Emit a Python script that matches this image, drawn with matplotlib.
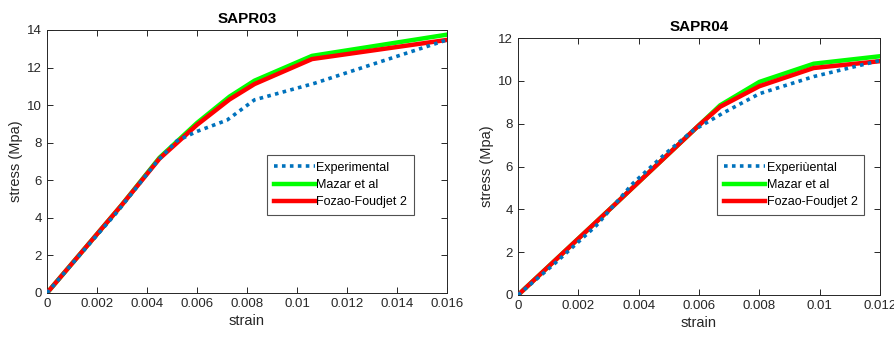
import matplotlib
matplotlib.use("Agg")
import matplotlib.pyplot as plt

plt.rcParams['font.family'] = ['Liberation Sans', 'DejaVu Sans']

# SAPR03
strain_03_exp = [0, 0.0012, 0.0028, 0.0044, 0.0052, 0.006, 0.0072, 0.0083, 0.0107, 0.016]
stress_03_exp = [0, 1.85, 4.3, 7.0, 8.1, 8.6, 9.2, 10.28, 11.16, 13.47]
strain_03_maz = [0, 0.0015, 0.003, 0.0045, 0.006, 0.0073, 0.0083, 0.0106, 0.016]
stress_03_maz = [0, 2.35, 4.7, 7.2, 9.05, 10.45, 11.3, 12.62, 13.75]
strain_03_foz = [0, 0.0015, 0.003, 0.0045, 0.006, 0.0073, 0.0083, 0.0106, 0.016]
stress_03_foz = [0, 2.35, 4.7, 7.15, 8.95, 10.3, 11.12, 12.45, 13.47]

# SAPR04
strain_04_exp = [0, 0.0012, 0.0026, 0.0038, 0.0049, 0.0058, 0.0068, 0.008, 0.0098, 0.012]
stress_04_exp = [0, 1.45, 3.25, 5.2, 6.62, 7.68, 8.5, 9.4, 10.2, 10.95]
strain_04_maz = [0, 0.003, 0.006, 0.0067, 0.008, 0.0098, 0.012]
stress_04_maz = [0, 3.95, 7.93, 8.86, 9.95, 10.8, 11.15]
strain_04_foz = [0, 0.003, 0.006, 0.0067, 0.008, 0.0098, 0.012]
stress_04_foz = [0, 3.95, 7.93, 8.79, 9.75, 10.6, 10.92]

labels_03 = ['Experimental', 'Mazar et al', 'Fozao-Foudjet 2']
labels_04 = ['Experiùental', 'Mazar et al', 'Fozao-Foudjet 2']

fig = plt.figure(figsize=(8.95, 3.39), dpi=100)
ax1 = fig.add_axes([0.0525, 0.1357, 0.447, 0.776])
ax2 = fig.add_axes([0.5788, 0.1298, 0.4045, 0.758])

blue = '#0072BD'
tc = '#262626'


def style(ax, xmax, ymax, xticks, xlabels, yticks, title):
	ax.set_xlim(0, xmax)
	ax.set_ylim(0, ymax)
	ax.set_xticks(xticks)
	ax.set_xticklabels(xlabels)
	ax.set_yticks(yticks)
	ax.tick_params(direction='in', top=True, right=True, labelsize=9.5,
				   colors=tc, length=4, width=0.7)
	for s in ax.spines.values():
		s.set_color('#262626')
		s.set_linewidth(0.7)
	ax.set_xlabel('strain', fontsize=10.5, color=tc, labelpad=3)
	ax.set_ylabel('stress (Mpa)', fontsize=10.5, color=tc, labelpad=3)
	ax.set_title(title, fontsize=11, fontweight='bold', pad=5)


ax1.plot(strain_03_maz, stress_03_maz, color='#00FF00', lw=3.2, label=labels_03[1], zorder=2)
ax1.plot(strain_03_foz, stress_03_foz, color='#FF0000', lw=3.2, label=labels_03[2], zorder=3)
ax1.plot(strain_03_exp, stress_03_exp, color=blue, lw=2.6, ls=(0, (1, 1.2)), label=labels_03[0], zorder=4)

ax2.plot(strain_04_maz, stress_04_maz, color='#00FF00', lw=3.2, label=labels_04[1], zorder=2)
ax2.plot(strain_04_foz, stress_04_foz, color='#FF0000', lw=3.2, label=labels_04[2], zorder=3)
ax2.plot(strain_04_exp, stress_04_exp, color=blue, lw=2.6, ls=(0, (1, 1.2)), label=labels_04[0], zorder=4)

style(ax1, 0.016, 14, [0, 0.002, 0.004, 0.006, 0.008, 0.01, 0.012, 0.014, 0.016],
	  ['0', '0.002', '0.004', '0.006', '0.008', '0.01', '0.012', '0.014', '0.016'],
	  range(0, 15, 2), 'SAPR03')
style(ax2, 0.012, 12, [0, 0.002, 0.004, 0.006, 0.008, 0.01, 0.012],
	  ['0', '0.002', '0.004', '0.006', '0.008', '0.01', '0.012'],
	  range(0, 13, 2), 'SAPR04')

for ax, (x0, y0) in ((ax1, (0.55, 0.525)), (ax2, (0.55, 0.545))):
	h, l = ax.get_legend_handles_labels()
	order = [2, 0, 1]
	leg = ax.legend([h[i] for i in order], [l[i] for i in order],
					loc='upper left', bbox_to_anchor=(x0, y0),
					fontsize=9, frameon=True, fancybox=False, handlelength=3.3,
					handletextpad=0.1, borderpad=0.55, labelspacing=0.42, borderaxespad=0)
	leg.get_frame().set_edgecolor('#262626')
	leg.get_frame().set_linewidth(0.8)

fig.savefig('out.png', dpi=100)
